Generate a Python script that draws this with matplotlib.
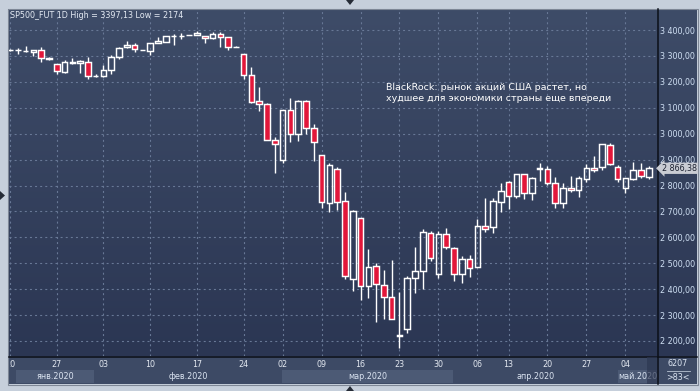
import matplotlib
matplotlib.use("Agg")
import matplotlib.pyplot as plt
import matplotlib.transforms as mtrans
from matplotlib.patches import Rectangle, Polygon
from matplotlib.lines import Line2D
from matplotlib.colors import LinearSegmentedColormap
import numpy as np

# ---------------- data ----------------
opens = [3322, 3323, 3318, 3316, 3322, 3291, 3268, 3238, 3274, 3271,
         3278, 3221, 3221, 3244, 3295, 3333, 3341, 3323, 3320, 3349,
         3354, 3377, 3377, 3379, 3380, 3377, 3368, 3383, 3372, 3336,
         3306, 3225, 3125, 3113, 2974, 2897, 3090, 2998, 3125, 3021,
         2916, 2731, 2862, 2739, 2438, 2673, 2411, 2488, 2415, 2369,
         2221, 2245, 2442, 2469, 2615, 2460, 2612, 2558, 2460, 2515,
         2484, 2645, 2639, 2735, 2812, 2758, 2843, 2770, 2865, 2862,
         2808, 2731, 2789, 2781, 2824, 2866, 2870, 2955, 2870, 2789,
         2824, 2859, 2832]
highs = [3325, 3331, 3338, 3323, 3333, 3296, 3268, 3284, 3291, 3284,
         3296, 3230, 3264, 3304, 3336, 3358, 3349, 3324, 3349, 3372,
         3377, 3385, 3387, 3380, 3397, 3377, 3392, 3394, 3372, 3337,
         3306, 3257, 3180, 3117, 2987, 3091, 3136, 3129, 3129, 3036,
         2917, 2886, 2871, 2775, 2704, 2674, 2555, 2500, 2474, 2513,
         2388, 2451, 2564, 2631, 2623, 2623, 2635, 2562, 2528, 2531,
         2670, 2751, 2751, 2808, 2816, 2843, 2844, 2832, 2886, 2875,
         2832, 2808, 2836, 2836, 2883, 2914, 2959, 2963, 2878, 2828,
         2891, 2887, 2875]
lows = [3320, 3306, 3317, 3300, 3278, 3284, 3230, 3235, 3268, 3235,
        3210, 3220, 3220, 3232, 3287, 3329, 3316, 3321, 3302, 3348,
        3353, 3343, 3364, 3379, 3379, 3351, 3367, 3336, 3324, 3335,
        3212, 3117, 3089, 2974, 2850, 2888, 2969, 2972, 2998, 2896,
        2715, 2697, 2706, 2441, 2394, 2360, 2365, 2275, 2286, 2283,
        2174, 2232, 2387, 2401, 2509, 2443, 2556, 2433, 2425, 2448,
        2484, 2622, 2618, 2699, 2711, 2751, 2749, 2745, 2819, 2801,
        2715, 2715, 2774, 2754, 2812, 2851, 2859, 2878, 2812, 2770,
        2823, 2830, 2824]
closes = [3324, 3324, 3320, 3321, 3291, 3290, 3241, 3275, 3275, 3279,
          3221, 3222, 3244, 3295, 3329, 3341, 3325, 3322, 3349, 3358,
          3377, 3378, 3378, 3380, 3387, 3369, 3383, 3372, 3333, 3335,
          3225, 3124, 3113, 2974, 2959, 3090, 2998, 3125, 3021, 2967,
          2735, 2878, 2738, 2450, 2700, 2411, 2484, 2419, 2369, 2284,
          2222, 2443, 2469, 2619, 2519, 2612, 2562, 2457, 2515, 2481,
          2645, 2634, 2739, 2778, 2758, 2843, 2770, 2828, 2867, 2808,
          2731, 2789, 2781, 2828, 2866, 2859, 2959, 2882, 2824, 2828,
          2859, 2836, 2866]

tick_idx = [0, 6, 12, 18, 24, 30, 35, 40, 45, 50, 55, 60, 64, 69, 74, 79]
tick_labels = ["20", "27", "03", "10", "17", "24", "02", "09", "16", "23",
               "30", "06", "13", "20", "27", "04"]
month_names = ["янв.2020", "фев.2020", "мар.2020", "апр.2020", "май.2020"]
month_edges = [0.77, 10.8, 34.9, 56.9, 78.05, 83.06]
y_ticks = [2200, 2300, 2400, 2500, 2600, 2700, 2800, 2900, 3000, 3100, 3200, 3300, 3400]
last_price = 2866.38
title = "SP500_FUT 1D High = 3397,13 Low = 2174"
note = "BlackRock: рынок акций США растет, но\nхудшее для экономики страны еще впереди"

# ---------------- figure ----------------
W, H = 700, 391
fig = plt.figure(figsize=(7, 3.91), dpi=100, facecolor="#c6cfdb")


def rect(x0, y0, x1, y1):
    return [x0 / W, 1 - y1 / H, (x1 - x0) / W, (y1 - y0) / H]


FS = 5.8
TXT = "#dbe4f1"

# background panel
bg = fig.add_axes(rect(8, 9, 697, 384), zorder=0)
bg.set_axis_off()
bg.add_patch(Rectangle((0, 0), 1, 1, color="#3d4a65", transform=bg.transAxes, zorder=0))
cmap = LinearSegmentedColormap.from_list("g", ["#2b3653", "#3e4c68"])
grad = np.linspace(0, 1, 256).reshape(-1, 1)
ystrip = (384 - 356) / 375
bg.imshow(grad, extent=(0, 1, ystrip, 1), aspect="auto", cmap=cmap, origin="lower", zorder=1)
bg.set_xlim(0, 1)
bg.set_ylim(0, 1)
for s in bg.spines.values():
    s.set_visible(False)

# main axes
ax = fig.add_axes(rect(9, 10, 657, 356), zorder=2)
ax.set_facecolor("none")
ax.set_xlim(-0.128, 83.06)
ax.set_ylim(2142.1, 3477.2)
for s in ax.spines.values():
    s.set_visible(False)

ax.grid(True, color="#687896", linestyle=(0, (1.8, 2.8)), linewidth=0.8)
ax.set_axisbelow(True)

# candles
W_BODY = 0.72
for i, (o, h, l, c) in enumerate(zip(opens, highs, lows, closes)):
    top, bot = max(o, c), min(o, c)
    up = c >= o
    ax.vlines(i, top, h, color="white", lw=1.0, zorder=3)
    ax.vlines(i, l, bot, color="white", lw=1.0, zorder=3)
    ax.add_patch(Rectangle((i - W_BODY / 2, bot), W_BODY, max(top - bot, 0.8),
                           facecolor="none" if up else "#e2173a",
                           edgecolor="white", lw=1.05, zorder=4))

# y axis on the right
ax.yaxis.tick_right()
ax.set_yticks(y_ticks)
ax.set_yticklabels([f"{v:,.2f}".replace(",", " ").replace(".", ",") for v in y_ticks])
ax.tick_params(axis="y", length=0, pad=1.8, labelsize=FS, labelcolor="#cfdff3")

# x axis
ax.set_xticks(tick_idx)
ax.set_xticklabels(tick_labels)
ax.tick_params(axis="x", length=0, pad=3.2, labelsize=FS, labelcolor="#e3e8f0")
clip_rect = mtrans.TransformedBbox(mtrans.Bbox([[9.5 / W, 0], [1, 1]]), fig.transFigure)
for lab in ax.get_xticklabels():
    lab.set_clip_box(clip_rect)
    lab.set_clip_on(True)

# month bands
blend = mtrans.blended_transform_factory(ax.transData, ax.transAxes)
yb0 = (356 - 383) / 346
yb1 = (356 - 370) / 346
for k, name in enumerate(month_names):
    x0, x1 = month_edges[k], month_edges[k + 1]
    if k % 2 == 0:
        ax.add_patch(Rectangle((x0, yb0), x1 - x0, yb1 - yb0, transform=blend,
                               clip_on=False, facecolor="#4c5a75", edgecolor="none", zorder=1))
    ax.text((x0 + x1) / 2, (yb0 + yb1) / 2, name, transform=blend, ha="center",
            va="center", fontsize=FS, color=TXT, clip_on=False, zorder=2)
ax.add_patch(Rectangle((81.75, (356 - 383.5) / 346), 83.06 - 81.75, 27 / 346, transform=blend,
                       clip_on=False, facecolor="#2c3650", alpha=0.65, edgecolor="none", zorder=5))

# title and note
ax.text(1.0 / 648, 1 - 5.5 / 346, title, transform=ax.transAxes, ha="left", va="center",
        fontsize=FS, color="#e4eaf3", zorder=6)
ax.text(48.3, 3157, note, ha="left", va="center", fontsize=6.8, color="white",
        linespacing=1.3, zorder=6)

# last price tag
tag_tr = mtrans.blended_transform_factory(ax.transAxes, ax.transData)
ax.text(1 + 5.0 / 648, last_price, f"{last_price:,.2f}".replace(",", " ").replace(".", ","),
        transform=tag_tr, ha="left", va="center", fontsize=FS, color="#1b2130",
        clip_on=False, zorder=7,
        bbox=dict(boxstyle="larrow,pad=0.14", fc="#c9ccd3", ec="none"))

# separator lines
fig.add_artist(Line2D([9 / W, 697 / W], [1 - 356.5 / H, 1 - 356.5 / H], color="#0b0f18", lw=1.1))
fig.add_artist(Line2D([657.5 / W, 657.5 / W], [1 - 9 / H, 1 - 384 / H], color="#0b0f18", lw=1.1))
# panel frame
fig.add_artist(Rectangle((7.5 / W, 1 - 384.5 / H), 690 / W, 376 / H, fill=False,
                         ec="#7e8796", lw=0.8, transform=fig.transFigure))

# footer on the right
fig.text(678 / W, 1 - 364 / H, "6207", ha="center", va="center", fontsize=FS, color=TXT)
fig.add_artist(Line2D([667 / W, 690 / W], [1 - 371 / H, 1 - 371 / H], color="#b9c3d2", lw=0.6))
fig.text(678 / W, 1 - 377.5 / H, ">83<", ha="center", va="center", fontsize=FS, color=TXT)

# small UI arrows
tri = "#252b36"
fig.add_artist(Polygon([[346 / W, 1.0], [354 / W, 1.0], [350 / W, 1 - 5 / H]],
                       closed=True, fc=tri, ec="none", transform=fig.transFigure))
fig.add_artist(Polygon([[346 / W, 0.0], [354 / W, 0.0], [350 / W, 5 / H]],
                       closed=True, fc=tri, ec="none", transform=fig.transFigure))
fig.add_artist(Polygon([[0, 1 - 191 / H], [0, 1 - 200 / H], [5 / W, 1 - 195.5 / H]],
                       closed=True, fc=tri, ec="none", transform=fig.transFigure))

fig.savefig("out.png", dpi=100, facecolor=fig.get_facecolor())
